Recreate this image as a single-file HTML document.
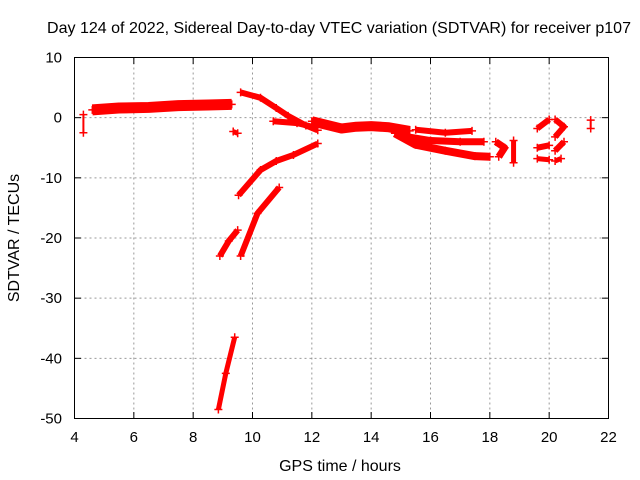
<!DOCTYPE html>
<html><head><meta charset="utf-8"><style>
body{margin:0;background:#fff;}
svg{display:block;font-family:"Liberation Sans",sans-serif;}
</style></head><body>
<svg id="chart" width="640" height="480" viewBox="0 0 640 480">
<rect width="640" height="480" fill="#fff"/>
<text x="339" y="33" text-anchor="middle" font-size="16" textLength="584" lengthAdjust="spacingAndGlyphs">Day 124 of 2022, Sidereal Day-to-day VTEC variation (SDTVAR) for receiver p107</text>
<g id="grid"></g><g id="ticks"></g><g id="marks"></g>
<rect x="74.5" y="57.5" width="534" height="361" fill="none" stroke="#000" stroke-width="1"/>
<text x="340" y="471" text-anchor="middle" font-size="16">GPS time / hours</text>
<text transform="translate(19,238) rotate(-90)" text-anchor="middle" font-size="16">SDTVAR / TECUs</text>
</svg>
<script>
const xTicks=[4,6,8,10,12,14,16,18,20,22];
const yTicks=[10,0,-10,-20,-30,-40,-50];
const trackFlat=[[4.6,1.3],[5.5,1.6],[6.5,1.7],[7.5,2.0],[8.5,2.1],[9.3,2.2]];
const trackOutlier=[[4.3,0.5],[4.3,-2.5]];
const trackBlob=[[9.35,-2.3],[9.5,-2.6]];
const trackDesc=[[9.6,4.2],[10.27,3.3],[10.8,1.6],[11.2,0.3],[11.8,-1.3],[12.2,-2.1]];
const trackFlat2=[[10.7,-0.6],[11.5,-0.9],[12.0,-1.5]];
const trackMid=[[12.0,-0.6],[12.5,-1.2],[13.0,-1.8],[13.5,-1.5],[14.0,-1.4],[14.6,-1.6],[15.3,-2.2]];
const trackUpper=[[15.5,-2.0],[16.5,-2.5],[17.4,-2.2]];
const trackMiddle=[[15.0,-3.0],[16.0,-3.8],[17.0,-4.0],[17.8,-4.0]];
const trackLower=[[14.8,-2.6],[15.5,-4.5],[16.5,-5.5],[17.5,-6.4],[18.0,-6.5]];
const trackLateA=[[18.2,-4.0],[18.5,-5.0],[18.3,-6.5]];
const trackLateB=[[18.8,-3.8],[18.8,-7.5]];
const trackLateC=[[19.6,-1.8],[20.0,-0.3]];
const trackLateD=[[19.6,-5.0],[20.0,-4.6]];
const trackLateE=[[19.6,-6.8],[20.0,-7.0]];
const trackLateF=[[20.2,-0.3],[20.5,-1.5],[20.2,-3.2]];
const trackLateG=[[20.2,-5.5],[20.5,-4.0]];
const trackLateH=[[20.2,-7.2],[20.4,-6.8]];
const trackLast=[[21.4,-0.4],[21.4,-1.8]];
const trackRise=[[9.53,-12.9],[10.27,-8.7],[10.8,-7.2],[11.38,-6.2],[12.2,-4.3]];
const trackG=[[8.9,-23.0],[9.2,-20.5],[9.5,-18.7]];
const trackH=[[9.6,-23.0],[10.17,-15.9],[10.9,-11.6]];
const trackI=[[8.85,-48.5],[9.1,-42.5],[9.4,-36.5]];
const tracks=[trackFlat,trackOutlier,trackBlob,trackDesc,trackFlat2,trackMid,trackUpper,trackMiddle,trackLower,trackLateA,trackLateB,trackLateC,trackLateD,trackLateE,trackLateF,trackLateG,trackLateH,trackLast,trackRise,trackG,trackH,trackI];
const widths=[11,2,5,6,6,10,6,7,8,7,5,6,6,5,6,6,5,2,6,6,6,5];

const NS="http://www.w3.org/2000/svg";
const X=h=>74.5+(h-4)*534/18;
const Y=v=>57.5+(10-v)*361/60;
const grid=document.getElementById('grid'),ticks=document.getElementById('ticks'),marks=document.getElementById('marks');
function mk(tag,attrs,parent){const e=document.createElementNS(NS,tag);for(const k in attrs)e.setAttribute(k,attrs[k]);parent.appendChild(e);return e;}
xTicks.forEach(t=>{
  const x=X(t);
  if(t>4&&t<22){const g=mk('line',{x1:x,x2:x,y1:57.5,y2:418.5,stroke:'#999','stroke-dasharray':'2,3'},grid);
  
  }
  mk('line',{x1:x,x2:x,y1:418.5,y2:412,stroke:'#000'},ticks);
  mk('line',{x1:x,x2:x,y1:57.5,y2:64,stroke:'#000'},ticks);
  const l=mk('text',{x:x,y:442,'text-anchor':'middle','font-size':'15'},ticks);l.textContent=t;
  
  
});
yTicks.forEach(t=>{
  const y=Y(t);
  if(t<10&&t>-50){const g=mk('line',{x1:74.5,x2:608.5,y1:y,y2:y,stroke:'#999','stroke-dasharray':'2,3'},grid);
  
  }
  mk('line',{x1:74.5,x2:81,y1:y,y2:y,stroke:'#000'},ticks);
  mk('line',{x1:608.5,x2:602,y1:y,y2:y,stroke:'#000'},ticks);
  const l=mk('text',{x:62,y:y+5,'text-anchor':'end','font-size':'15'},ticks);l.textContent=t;
  
  
});
tracks.forEach((tr,i)=>{
  const pts=tr.map(p=>X(p[0])+','+Y(p[1])).join(' ');
  const pl=mk('polyline',{points:pts,fill:'none',stroke:'#f00','stroke-width':widths[i],'stroke-linejoin':'round','stroke-linecap':'butt'},marks);
  
  
  tr.forEach(p=>{
    const x=X(p[0]),y=Y(p[1]);
    mk('path',{d:`M${x-4},${y}h8M${x},${y-4}v8`,stroke:'#f00','stroke-width':1.5},marks);
  });
});
</script>
</body></html>
